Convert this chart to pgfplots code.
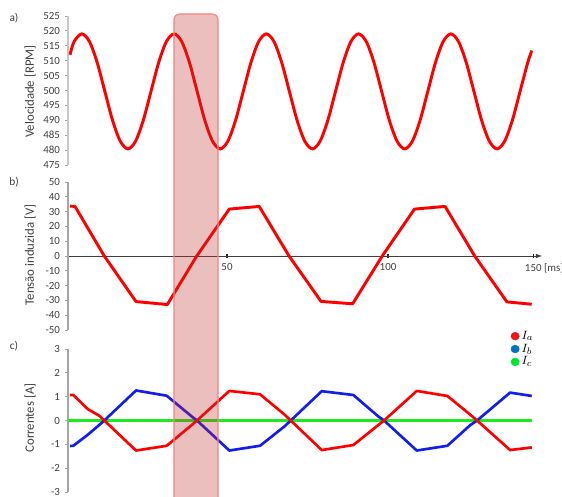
\documentclass[border=0pt]{standalone}
\usepackage{fontspec}
\setmainfont{Carlito}
\usepackage{pgfplots}
\pgfplotsset{compat=1.18}
\definecolor{axgray}{RGB}{166,166,166}
\definecolor{txtgray}{RGB}{64,64,64}
\definecolor{cred}{RGB}{255,0,0}
\definecolor{cblue}{RGB}{20,30,235}
\definecolor{cgreen}{RGB}{30,235,30}
\definecolor{lred}{RGB}{240,20,20}
\definecolor{lblue}{RGB}{0,112,192}
\definecolor{lgreen}{RGB}{0,230,40}
\definecolor{hlfill}{RGB}{192,42,42}
\definecolor{hldraw}{RGB}{245,130,130}

\pgfplotsset{
  base/.style={
    scale only axis, width=355.5pt, anchor=south west,
    xmin=0.62, xmax=147.8,
    axis y line=left,
    y axis line style={-, draw=axgray, line width=0.8pt},
    ytick align=outside, major tick length=2.5pt,
    ytick style={draw=axgray, line width=0.6pt},
    /pgf/number format/assume math mode=true,
    ticklabel style={font=\fontsize{8.2}{9}\selectfont, text=txtgray},
    clip=false,
  },
}

\begin{document}
\begin{tikzpicture}
\useasboundingbox (0pt,0pt) rectangle (421.5pt,372.75pt);

% ---------- a) speed ----------
\begin{axis}[base, at={(51pt,249pt)}, height=111.75pt,
  ymin=475, ymax=525, ytick={475,480,...,525},
  axis x line=none, xtick=\empty,
  y axis line style={-, draw=black!22, line width=1.3pt}]
\addplot[cred, line width=2.2pt, smooth] coordinates {
(1.24,512.0) (2.51,516.4) (4.90,519.0) (7.29,516.4) (9.68,509.4) (12.06,499.7)
(14.45,490.0) (16.84,483.0) (19.23,480.4) (21.61,483.0) (24.00,490.0) (26.39,499.7)
(28.78,509.4) (31.16,516.4) (33.55,519.0) (35.94,516.4) (38.33,509.4) (40.71,499.7)
(43.10,490.0) (45.49,483.0) (47.88,480.4) (50.26,483.0) (52.65,490.0) (55.04,499.7)
(57.43,509.4) (59.81,516.4) (62.20,519.0) (64.59,516.4) (66.98,509.4) (69.36,499.7)
(71.75,490.0) (74.14,483.0) (76.53,480.4) (78.91,483.0) (81.30,490.0) (83.69,499.7)
(86.08,509.4) (88.46,516.4) (90.85,519.0) (93.24,516.4) (95.63,509.4) (98.01,499.7)
(100.40,490.0) (102.79,483.0) (105.18,480.4) (107.56,483.0) (109.95,490.0) (112.34,499.7)
(114.73,509.4) (117.11,516.4) (119.50,519.0) (121.89,516.4) (124.28,509.4) (126.66,499.7)
(129.05,490.0) (131.44,483.0) (133.83,480.4) (136.21,483.0) (138.60,490.0) (140.99,499.7)
(143.38,509.4) (144.65,513.4)
};
\end{axis}

% ---------- b) induced voltage ----------
\begin{axis}[base, at={(51pt,125.25pt)}, height=111pt,
  ymin=-50, ymax=50, ytick={-50,-40,...,50},
  axis x line=middle,
  x axis line style={-latex, draw=black!75, line width=0.6pt},
  xtick={50,100,145.1}, xticklabels={50,100,150\rlap{ [ms]}},
  xtick align=center,
  xtick style={draw=black!85, line width=1pt},
  hide obscured x ticks=false, hide obscured y ticks=false,
  xticklabel style={anchor=north, yshift=-1pt}]
\addplot[cred, line width=2.2pt, line join=round] coordinates {
(1.24,33.7) (2.80,33.5) (11.88,0) (21.74,-30.8) (31.46,-32.8) (40.6,0)
(50.7,31.7) (60.0,33.5) (69.25,0) (79.2,-30.7) (89.0,-32.3) (98.2,0)
(108.2,31.7) (117.7,33.5) (126.9,0) (136.9,-31.0) (144.6,-32.6)
};
\end{axis}

% ---------- c) currents ----------
\begin{axis}[base, at={(51pt,3.75pt)}, height=107.25pt,
  ymin=-3, ymax=3, ytick={-3,-2,...,3},
  axis x line=none, xtick=\empty,
  legend style={at={(0.925,1.16)}, anchor=north west, draw=none, fill=none,
    font=\fontsize{9.5}{11}\selectfont, row sep=-1pt,
    nodes={inner sep=1.5pt}},
  legend cell align=left,
  legend image code/.code={\fill[#1] (0.18cm,0cm) ellipse (3.1pt and 2.9pt);}]
\addlegendimage{lred}
\addlegendentry{$I_a$}
\addlegendimage{lblue}
\addlegendentry{$I_b$}
\addlegendimage{lgreen}
\addlegendentry{$I_c$}
\addplot[cgreen, line width=2.2pt, forget plot] coordinates {(0.70,0) (144.8,0)};
\addplot[cblue, line width=2pt, line join=round, forget plot] coordinates {
(1.24,-1.07) (2.27,-1.06) (6.74,-0.60) (10.56,-0.16) (11.89,0) (21.74,1.26)
(31.27,1.04) (39.13,0.16) (40.68,0) (50.71,-1.26) (60.25,-1.06) (68.01,-0.23)
(69.78,0) (79.41,1.23) (89.22,1.07) (96.89,0.18) (98.76,0) (108.91,-1.26)
(118.42,-1.06) (125.47,-0.20) (127.64,0) (137.89,1.17) (144.63,1.03)
};
\addplot[cred, line width=2pt, line join=round, forget plot] coordinates {
(1.24,1.07) (2.27,1.07) (6.74,0.48) (10.56,0.18) (11.89,0) (21.74,-1.26)
(31.27,-1.06) (39.13,-0.18) (40.68,0) (50.71,1.24) (60.25,1.10) (68.01,0.23)
(69.78,0) (79.41,-1.24) (89.22,-1.03) (96.89,-0.20) (98.76,0) (108.91,1.24)
(118.42,1.03) (125.47,0.25) (127.64,0) (137.89,-1.24) (144.63,-1.13)
};
\end{axis}

% panel letters
\node[font=\fontsize{8.5}{9}\selectfont, text=txtgray] at (10.5pt,359.25pt) {a)};
\node[font=\fontsize{8.5}{9}\selectfont, text=txtgray] at (10.5pt,236.25pt) {b)};
\node[font=\fontsize{8.5}{9}\selectfont, text=txtgray] at (10.5pt,113.25pt) {c)};

% y labels
\node[rotate=90, font=\fontsize{9.6}{10}\selectfont, text=txtgray] at (22.5pt,304.1pt) {Velocidade [RPM]};
\node[rotate=90, font=\fontsize{9.6}{10}\selectfont, text=txtgray] at (22.5pt,181.5pt) {Tensão induzida [V]};
\node[rotate=90, font=\fontsize{9.6}{10}\selectfont, text=txtgray] at (22.5pt,59.25pt) {Correntes [A]};

% highlight window
\draw[draw=hldraw, line width=0.8pt, fill=hlfill, fill opacity=0.3, rounded corners=4pt]
  (130.5pt,362.25pt) rectangle (163.5pt,-8pt);
\end{tikzpicture}
\end{document}
